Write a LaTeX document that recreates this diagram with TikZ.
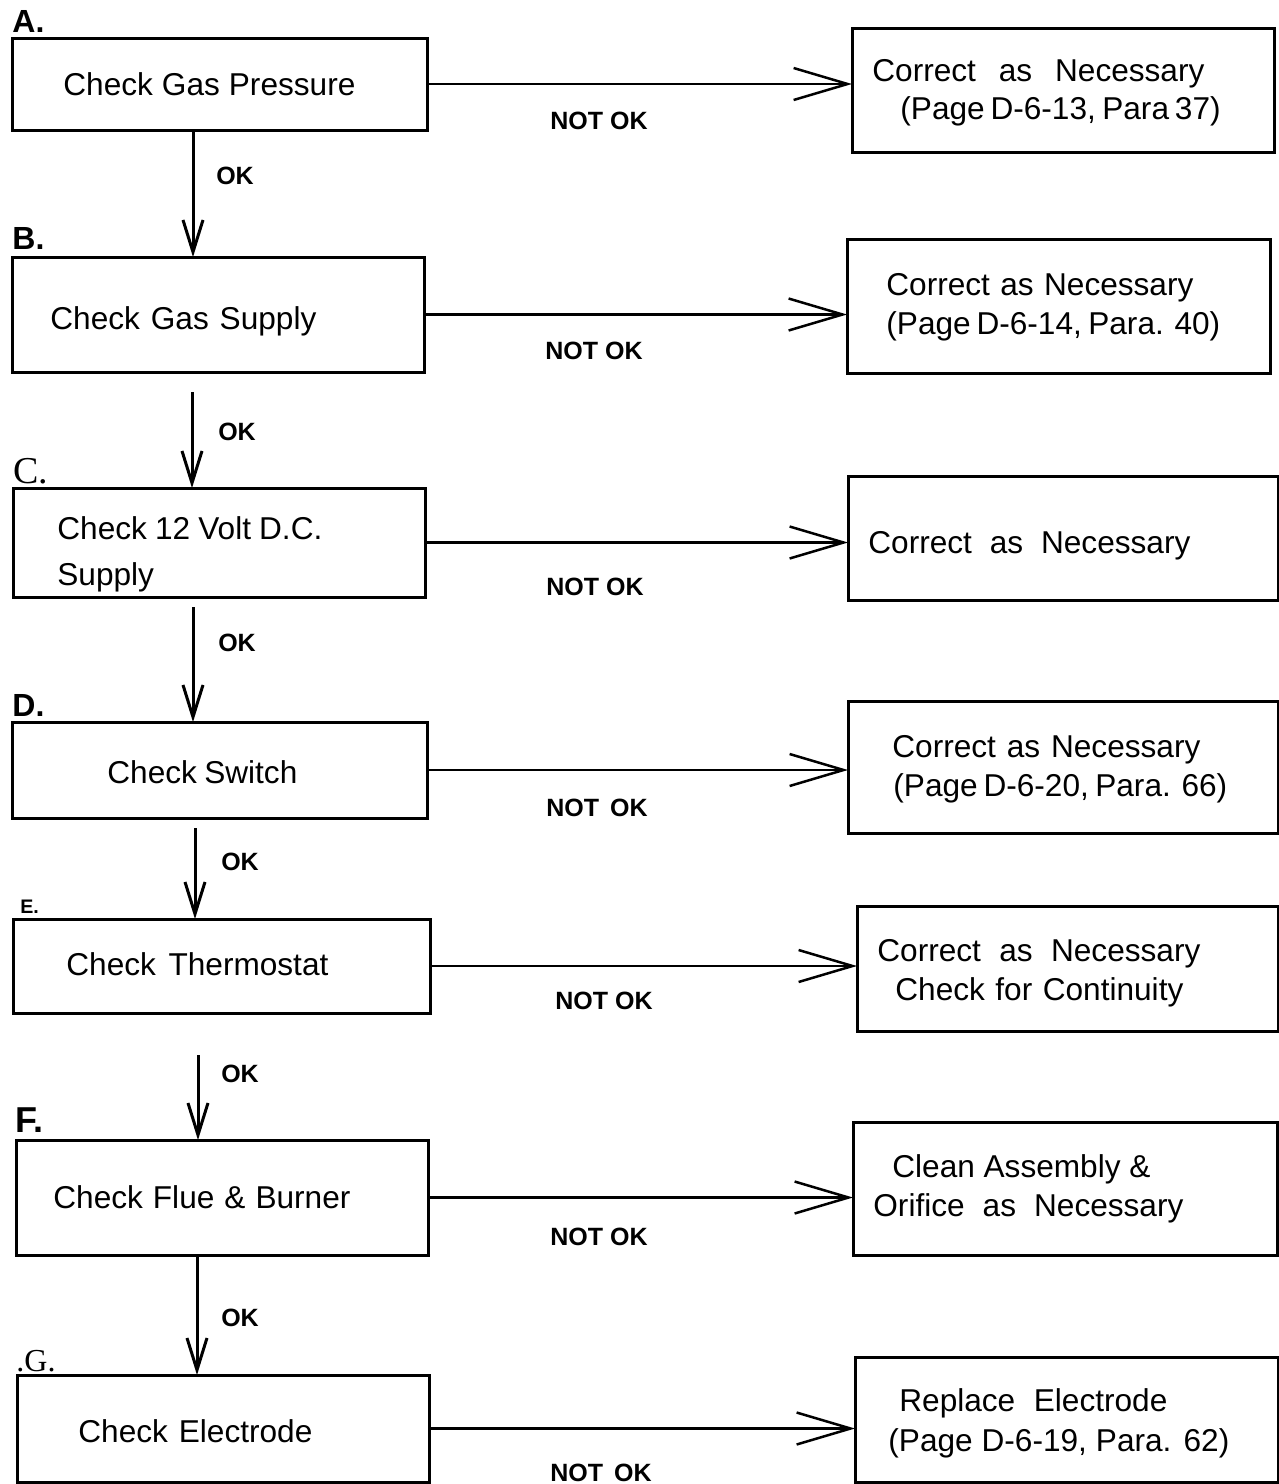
\documentclass[tikz,border=0pt]{standalone}
\usepackage{fontspec}
\setmainfont{Liberation Sans}
\newfontfamily\serifface{Liberation Serif}
\usetikzlibrary{arrows.meta}
\newcommand\fitw[2]{\makebox[\dimexpr 0.5pt*#1\relax][s]{#2}}
\begin{document}
\begin{tikzpicture}[x=0.5pt,y=-0.5pt,
  box/.style={draw,line width=1.5pt,inner sep=0pt,outer sep=0pt,anchor=north west},
  txt/.style={inner sep=0pt,anchor=west,text height=11.3pt,text depth=0pt,font=\fontsize{15.8}{18}\selectfont},
  lbl/.style={inner sep=0pt,text height=9pt,text depth=0pt,font=\bfseries\fontsize{12.5}{14}\selectfont},
  letter/.style={inner sep=0pt,anchor=west,text height=11.5pt,text depth=0pt,font=\bfseries\fontsize{16}{18}\selectfont},
  harr/.style={line width=1.25pt,-{Straight Barb[length=27pt,width=16pt,line width=1.25pt]}},
  varr/.style={line width=1.5pt,-{Straight Barb[length=16pt,width=10pt,line width=1.5pt]}},
]
\useasboundingbox (0,0) rectangle (1279,1484);

% left boxes
\node[box,minimum width=415*0.5pt,minimum height=92*0.5pt]  (A) at (12,38) {};
\node[box,minimum width=412*0.5pt,minimum height=115*0.5pt] (B) at (12,257) {};
\node[box,minimum width=412*0.5pt,minimum height=109*0.5pt] (C) at (13,488) {};
\node[box,minimum width=415*0.5pt,minimum height=96*0.5pt]  (D) at (12,722) {};
\node[box,minimum width=417*0.5pt,minimum height=94*0.5pt]  (E) at (13,919) {};
\node[box,minimum width=412*0.5pt,minimum height=115*0.5pt] (F) at (16,1140) {};
\node[box,minimum width=412*0.5pt,minimum height=107*0.5pt] (G) at (17,1375) {};

% right boxes
\node[box,minimum width=422*0.5pt,minimum height=124*0.5pt] (Ap) at (852,28) {};
\node[box,minimum width=423*0.5pt,minimum height=134*0.5pt] (Bp) at (847,239) {};
\node[box,minimum width=430*0.5pt,minimum height=124*0.5pt] (Cp) at (848,476) {};
\node[box,minimum width=430*0.5pt,minimum height=132*0.5pt] (Dp) at (848,701) {};
\node[box,minimum width=421*0.5pt,minimum height=125*0.5pt] (Ep) at (857,906) {};
\node[box,minimum width=424*0.5pt,minimum height=133*0.5pt] (Fp) at (853,1122) {};
\node[box,minimum width=423*0.5pt,minimum height=125*0.5pt] (Gp) at (855,1357) {};

% step letters
\node[letter] (lA) at (12,21) {A.};
\node[letter] (lB) at (12,238) {B.};
\node[letter,text height=8.8pt,font=\serifface\fontsize{19}{21}\selectfont] (lC) at (13,475) {C.};
\node[letter] (lD) at (12,705) {D.};
\node[letter,text height=5pt,font=\bfseries\fontsize{9.8}{11}\selectfont] (lE) at (20,908) {E.};
\node[letter,text height=13pt,font=\bfseries\fontsize{18}{20}\selectfont] (lF) at (15,1119) {F.};
\node[letter,text height=8pt,font=\serifface\fontsize{16}{18}\selectfont] (lG) at (16,1363) {.G.};

% left texts
\node[txt] (tA)  at (63,84)   {\fitw{292}{Check Gas Pressure}};
\node[txt] (tB)  at (50,318)  {\fitw{266}{Check Gas Supply}};
\node[txt] (tC1) at (57,528)  {\fitw{265}{Check 12 Volt D.C.}};
\node[txt] (tC2) at (57,574)  {Supply};
\node[txt] (tD)  at (107,772) {\fitw{190}{Check Switch}};
\node[txt] (tE)  at (66,964)  {\fitw{262}{Check Thermostat}};
\node[txt] (tF)  at (53,1197) {\fitw{297}{Check Flue \& Burner}};
\node[txt] (tG)  at (78,1431) {\fitw{234}{Check Electrode}};

% right texts
\node[txt] (tAp1) at (872,70)   {\fitw{332}{Correct as Necessary}};
\node[txt] (tAp2) at (900,108)  {\fitw{318}{(Page D-6-13, Para 37)}};
\node[txt] (tBp1) at (886,284)  {\fitw{307}{Correct as Necessary}};
\node[txt] (tBp2) at (886,323)  {\fitw{329}{(Page D-6-14, Para. 40)}};
\node[txt] (tCp)  at (868,542)  {\fitw{322}{Correct as Necessary}};
\node[txt] (tDp1) at (892,746)  {\fitw{308}{Correct as Necessary}};
\node[txt] (tDp2) at (893,785)  {\fitw{329}{(Page D-6-20, Para. 66)}};
\node[txt] (tEp1) at (877,950)  {\fitw{323}{Correct as Necessary}};
\node[txt] (tEp2) at (895,989)  {\fitw{288}{Check for Continuity}};
\node[txt] (tFp1) at (892,1166) {\fitw{258}{Clean Assembly \&}};
\node[txt] (tFp2) at (873,1205) {\fitw{310}{Orifice as Necessary}};
\node[txt] (tGp1) at (899,1400) {\fitw{268}{Replace Electrode}};
\node[txt] (tGp2) at (888,1440) {\fitw{341}{(Page D-6-19, Para. 62)}};

% NOT OK arrows
\draw[harr] (A.east) -- (A.east -| Ap.west);
\draw[harr] (B.east) -- (B.east -| Bp.west);
\draw[harr] (C.east) -- (C.east -| Cp.west);
\draw[harr] (D.east) -- (D.east -| Dp.west);
\draw[harr] (E.east) -- (E.east -| Ep.west);
\draw[harr] (F.east) -- (F.east -| Fp.west);
\draw[harr] (G.east) -- (G.east -| Gp.west);

\node[lbl] (nA) at (599,120)  {NOT OK};
\node[lbl] (nB) at (594,350)  {NOT OK};
\node[lbl] (nC) at (595,586)  {NOT OK};
\node[lbl] (nD) at (597,807)  {NOT\, OK};
\node[lbl] (nE) at (604,1000) {NOT OK};
\node[lbl] (nF) at (599,1236) {NOT OK};
\node[lbl] (nG) at (601,1472) {NOT\, OK};

% OK arrows
\coordinate (xAB) at (193,0);
\coordinate (xBC) at (192,0);
\coordinate (xCD) at (193,0);
\coordinate (xDE) at (195,0);
\coordinate (xEF) at (198,0);
\coordinate (xFG) at (197,0);
\draw[varr] (A.south -| xAB) -- (B.north -| xAB);
\draw[varr,shorten <=10pt] (B.south -| xBC) -- (C.north -| xBC);
\draw[varr,shorten <=5pt] (C.south -| xCD) -- (D.north -| xCD);
\draw[varr,shorten <=5pt] (D.south -| xDE) -- (E.north -| xDE);
\draw[varr,shorten <=21pt] (E.south -| xEF) -- (F.north -| xEF);
\draw[varr] (F.south -| xFG) -- (G.north -| xFG);

\node[lbl] (oAB) at (235,175)  {OK};
\node[lbl] (oBC) at (237,431)  {OK};
\node[lbl] (oCD) at (237,642)  {OK};
\node[lbl] (oDE) at (240,861)  {OK};
\node[lbl] (oEF) at (240,1073) {OK};
\node[lbl] (oFG) at (240,1317) {OK};
\end{tikzpicture}
\end{document}
